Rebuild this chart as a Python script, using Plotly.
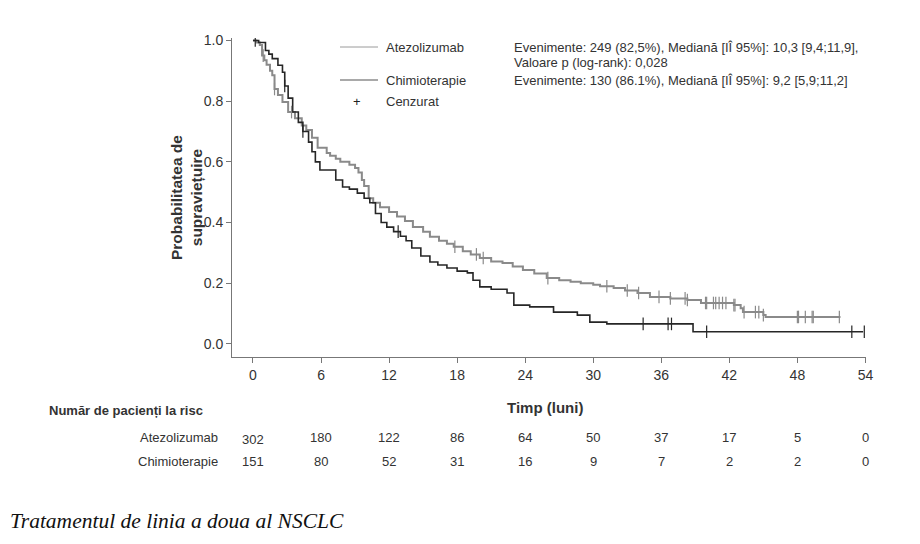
import numpy as np
import plotly.graph_objects as go

# ---- data ----
atezo_t = [0, 0.3, 0.6, 0.8, 1.0, 1.2, 1.5, 1.7, 1.9, 2.2, 2.6, 3.1, 3.7, 4.3, 4.7, 5.2, 5.7, 6.5, 6.8, 7.3,
           7.7, 8.5, 9.0, 9.3, 9.6, 9.8, 10.2, 10.6, 11.2, 12.0, 12.7, 13.4, 14.1, 15.0, 15.6, 16.4, 17.1,
           17.7, 18.5, 19.2, 20.0, 21.0, 22.0, 22.9, 23.8, 24.8, 25.9, 27.0, 28.0, 28.9, 30.0, 30.6, 31.8,
           32.8, 33.9, 35.0, 36.8, 38.3, 39.5, 42.4, 43.0, 43.2, 45.0, 45.2, 51.8]
atezo_s = [1.0, 0.993, 0.985, 0.95, 0.935, 0.92, 0.90, 0.885, 0.84, 0.82, 0.797, 0.764, 0.744, 0.72, 0.705,
           0.679, 0.646, 0.629, 0.62, 0.61, 0.60, 0.59, 0.58, 0.565, 0.54, 0.52, 0.48, 0.465, 0.45, 0.435,
           0.42, 0.405, 0.385, 0.37, 0.353, 0.34, 0.33, 0.32, 0.305, 0.295, 0.283, 0.272, 0.267, 0.255,
           0.244, 0.232, 0.217, 0.21, 0.205, 0.2, 0.195, 0.19, 0.184, 0.176, 0.168, 0.155, 0.15, 0.145,
           0.135, 0.128, 0.118, 0.105, 0.095, 0.089, 0.089]
chemo_t = [0, 0.5, 1.1, 1.4, 1.7, 2.2, 2.6, 2.8, 3.1, 3.5, 4.0, 4.4, 4.9, 5.2, 5.5, 5.9, 7.3, 7.9, 8.5, 9.2,
           9.8, 10.3, 10.8, 11.3, 11.8, 12.4, 13.0, 13.5, 14.0, 14.8, 15.6, 16.3, 17.1, 18.0, 18.9, 19.4,
           20.0, 21.0, 22.4, 23.0, 24.4, 26.5, 28.6, 29.7, 31.2, 38.8, 53.8]
chemo_s = [1.0, 0.993, 0.967, 0.955, 0.94, 0.918, 0.895, 0.85, 0.81, 0.764, 0.73, 0.70, 0.665, 0.633, 0.60,
           0.573, 0.54, 0.517, 0.51, 0.497, 0.48, 0.465, 0.43, 0.40, 0.385, 0.37, 0.355, 0.34, 0.316, 0.29,
           0.27, 0.26, 0.25, 0.24, 0.234, 0.21, 0.188, 0.18, 0.168, 0.128, 0.122, 0.105, 0.095, 0.072,
           0.066, 0.04, 0.04]
atezo_cens = [0.9, 1.9, 3.4, 17.8, 19.7, 20.3, 26.0, 31.2, 33.0, 34.0, 35.8, 36.8, 38.1, 38.3, 39.9, 40.0,
              40.6, 40.8, 41.1, 41.4, 41.7, 42.4, 42.5, 43.3, 44.3, 44.6, 45.0, 48.0, 48.1, 48.7, 49.3, 49.4,
              51.7]
chemo_cens = [0.2, 2.8, 4.4, 12.8, 34.4, 36.6, 36.9, 40.0, 52.8, 53.9]

risk_times = [0, 6, 12, 18, 24, 30, 36, 42, 48, 54]
risk_atezo = [302, 180, 122, 86, 64, 50, 37, 17, 5, 0]
risk_chemo = [151, 80, 52, 31, 16, 9, 7, 2, 2, 0]

x_ticks = [0, 6, 12, 18, 24, 30, 36, 42, 48, 54]
y_ticks = [0.0, 0.2, 0.4, 0.6, 0.8, 1.0]

# ---- styling ----
GREY = "#8a8a8a"
DARK = "#262626"
NARROW = "Liberation Sans Narrow, Arial Narrow, Arial, sans-serif"
SANS = "Arial, Liberation Sans, sans-serif"

def step_val(ts, ss, t):
    i = int(np.searchsorted(np.array(ts), t, side="right")) - 1
    return ss[max(i, 0)]

fig = go.Figure()
fig.add_trace(go.Scatter(x=atezo_t, y=atezo_s, mode="lines", line=dict(color=GREY, width=2, shape="hv"),
                         showlegend=False, hoverinfo="skip"))
fig.add_trace(go.Scatter(x=chemo_t, y=chemo_s, mode="lines", line=dict(color=DARK, width=1.6, shape="hv"),
                         showlegend=False, hoverinfo="skip"))
fig.add_trace(go.Scatter(x=atezo_cens, y=[step_val(atezo_t, atezo_s, t) for t in atezo_cens], mode="markers",
                         marker=dict(symbol="line-ns-open", size=9, color=GREY, line=dict(color=GREY, width=1.2)),
                         showlegend=False, hoverinfo="skip"))
fig.add_trace(go.Scatter(x=chemo_cens, y=[step_val(chemo_t, chemo_s, t) for t in chemo_cens], mode="markers",
                         marker=dict(symbol="line-ns-open", size=9, color=DARK, line=dict(color=DARK, width=1.2)),
                         showlegend=False, hoverinfo="skip"))

# plot area in pixels: x 232..866, y 38..357
T, B = 38, 357
H = B - T
def py(p):
    return (B - p) / H

L, R = 232, 866
W = R - L
def px(p):
    return (p - L) / W

ann = []
# legend
shapes = [
    dict(type="line", xref="paper", yref="paper", x0=px(340), x1=px(378), y0=py(47), y1=py(47),
         line=dict(color="#9a9a9a", width=1)),
    dict(type="line", xref="paper", yref="paper", x0=px(340), x1=px(378), y0=py(80), y1=py(80),
         line=dict(color="#555555", width=1.2)),
]
ann.append(dict(x=px(357), y=py(101), xref="paper", yref="paper", text="+", showarrow=False,
                font=dict(family=SANS, size=13, color="#222222"), xanchor="center", yanchor="middle"))
for label, ypx in [("Atezolizumab", 47), ("Chimioterapie", 80), ("Cenzurat", 101)]:
    ann.append(dict(x=px(384), y=py(ypx), xref="paper", yref="paper", text=label, showarrow=False,
                    font=dict(family=NARROW, size=13, color="#333"), xanchor="left", yanchor="middle"))
for label, ypx in [("Evenimente: 249 (82,5%), Mediană [IÎ 95%]: 10,3 [9,4;11,9],", 47),
                   ("Valoare p (log-rank): 0,028", 63),
                   ("Evenimente: 130 (86.1%), Mediană [IÎ 95%]: 9,2 [5,9;11,2]", 80)]:
    ann.append(dict(x=px(512), y=py(ypx), xref="paper", yref="paper", text=label, showarrow=False,
                    font=dict(family=NARROW, size=13, color="#333"), xanchor="left", yanchor="middle"))

# y-axis title (two lines)
ann.append(dict(x=px(187), y=py(198), xref="paper", yref="paper",
                text="<b>Probabilitatea de<br>supraviețuire</b>", showarrow=False, textangle=-90,
                font=dict(family=SANS, size=15.5, color="#333"), xanchor="center", yanchor="middle"))
# x-axis title
ann.append(dict(x=px(545), y=py(407), xref="paper", yref="paper", text="<b>Timp (luni)</b>", showarrow=False,
                font=dict(family=NARROW, size=15, color="#333"), xanchor="center", yanchor="middle"))
# risk table
ann.append(dict(x=px(47), y=py(410), xref="paper", yref="paper", text="<b>Număr de pacienți la risc</b>",
                showarrow=False, font=dict(family=NARROW, size=13, color="#333"), xanchor="left",
                yanchor="middle"))
for label, ypx in [("Atezolizumab", 437), ("Chimioterapie", 461)]:
    ann.append(dict(x=px(220), y=py(ypx), xref="paper", yref="paper", text=label, showarrow=False,
                    font=dict(family=NARROW, size=13, color="#333"), xanchor="right", yanchor="middle"))
for t, a, c in zip(risk_times, risk_atezo, risk_chemo):
    ann.append(dict(x=t, y=py(439 if t == 0 else 437), xref="x", yref="paper", text=str(a), showarrow=False,
                    font=dict(family=NARROW, size=13, color="#333"), xanchor="center", yanchor="middle"))
    ann.append(dict(x=t, y=py(461), xref="x", yref="paper", text=str(c), showarrow=False,
                    font=dict(family=NARROW, size=13, color="#333"), xanchor="center", yanchor="middle"))
# caption
ann.append(dict(x=px(8), y=py(521), xref="paper", yref="paper", text="<i>Tratamentul de linia a doua al NSCLC</i>",
                showarrow=False, font=dict(family="Liberation Serif, Times New Roman, serif", size=21.5, color="#111"),
                xanchor="left", yanchor="middle"))

fig.update_layout(
    width=920, height=544,
    margin=dict(l=L, r=920 - R, t=T, b=544 - B),
    paper_bgcolor="white", plot_bgcolor="white",
    annotations=ann, shapes=shapes, showlegend=False,
    xaxis=dict(range=[-1.85, 54.05], tickvals=x_ticks, ticktext=[str(v) for v in x_ticks],
               showline=True, linecolor="#777", linewidth=1, ticks="outside", ticklen=5, tickcolor="#777",
               showgrid=False, zeroline=False, tickfont=dict(family=SANS, size=14, color="#333")),
    yaxis=dict(range=[-0.043, 1.008], tickvals=y_ticks, ticktext=["0.0", "0.2", "0.4", "0.6", "0.8", "1.0"],
               showline=True, linecolor="#777", linewidth=1, ticks="outside", ticklen=5, tickcolor="#777",
               showgrid=False, zeroline=False, tickfont=dict(family=SANS, size=14, color="#333")),
)

fig.write_html("out.html")
